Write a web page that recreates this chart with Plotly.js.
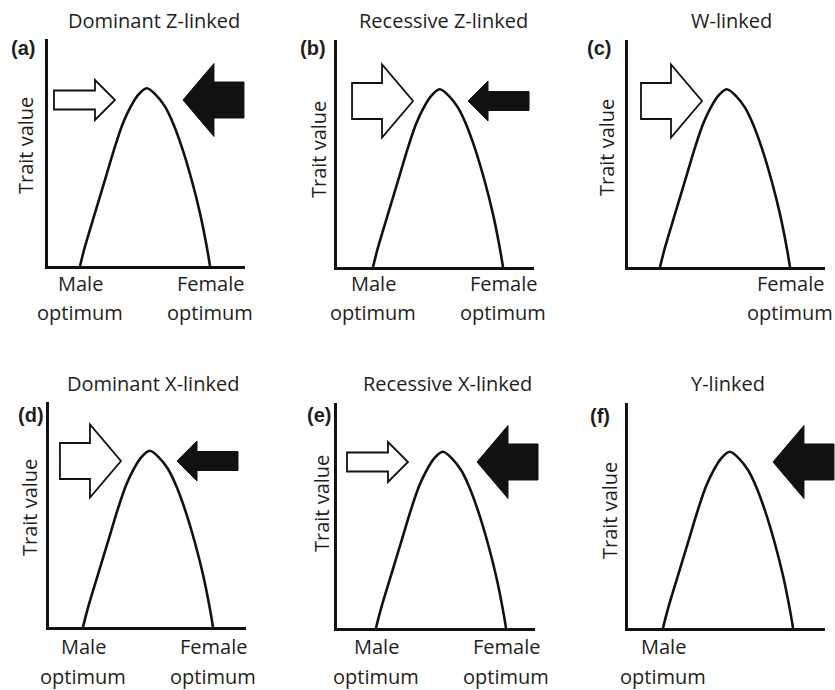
<!DOCTYPE html>
<html><head><meta charset="utf-8">
<script src="https://cdn.plot.ly/plotly-3.0.1.min.js"></script>
<style>html,body{margin:0;padding:0;background:#fff}#chart{width:835px;height:690px}</style>
</head><body><div id="chart"></div>
<script>
// ---------- DATA ----------
const panelLetters = ['(a)', '(b)', '(c)', '(d)', '(e)', '(f)'];
const panelTitles = ['Dominant Z-linked', 'Recessive Z-linked', 'W-linked',
                     'Dominant X-linked', 'Recessive X-linked', 'Y-linked'];
const yAxisLabel = 'Trait value';
const maleLabel = ['Male', 'optimum'];
const femaleLabel = ['Female', 'optimum'];
const showMaleLabel = [true, true, false, true, true, true];
const showFemaleLabel = [true, true, true, true, true, false];
// trait-value curve: x = 0 at male optimum, x = 1 at female optimum; y relative to axis height
const curveX = [0, 0.038, 0.115, 0.192, 0.269, 0.331, 0.39, 0.446, 0.513, 0.585, 0.654, 0.715, 0.782, 0.859, 0.923, 0.975, 1];
const curveY = [0, 0.085, 0.233, 0.379, 0.526, 0.630, 0.702, 0.753, 0.783, 0.753, 0.702, 0.630, 0.526, 0.379, 0.233, 0.085, 0];
// selection strength pushing toward optimum: 0 = none, 1 = weak, 2 = strong
const maleSelection = [1, 2, 2, 2, 1, 0];     // white arrows (pointing right)
const femaleSelection = [2, 1, 0, 1, 2, 2];   // black arrows (pointing left)

// ---------- LAYOUT (positions in px) ----------
const W = 835, H = 690;
const boxes = [ // [left, right, top, bottom]
  [48, 245, 39, 266], [337, 534, 40, 267], [628, 825, 40, 267],
  [49, 246, 402, 627], [337, 535, 403, 628], [628, 825, 403, 628]];
const footPx = [80, 373, 660, 83, 376, 663];
const unitPx = 130;
const maleTipX = [0.269, 0.308, 0.323, 0.292, 0.246, 0];
const femaleTipX = [0.792, 0.731, 0, 0.723, 0.777, 0.846];
const arrowCenterPx = 166;
const arrowDims = { // px: length, head length, head half-height, shaft half-height
  1: {L: 61, Hd: 20, hh: 20, sh: 9.5},
  2: {L: 61, Hd: 31, hh: 36.5, sh: 18}
};
const titlePos = [[154, 20], [444, 20], [731, 20], [153, 383], [447, 383], [728, 383]];
const letterPos = [[23, 48], [313, 48], [599, 48], [31, 415], [319, 415], [600, 416]];
const ylabPos = [[26, 146], [319, 150], [606, 148], [29, 508], [321, 504], [609, 511]];
const labelRowY = [[284, 312], [646, 676]];

const FONT = 'Open Sans, Noto Sans, sans-serif';
const TXT = '#1e1e1e';
const INK = '#111111';
const FS = 20;

const traces = [];
const layout = {
  width: W, height: H, margin: {l: 0, r: 0, t: 0, b: 0},
  paper_bgcolor: '#fff', plot_bgcolor: 'rgba(0,0,0,0)',
  showlegend: false, annotations: [], shapes: []
};
const px = x => x / W;
const py = y => 1 - y / H;

boxes.forEach((b, i) => {
  const n = i === 0 ? '' : String(i + 1);
  const [L, R, T, B] = b;
  const r0 = -(footPx[i] - L) / unitPx, r1 = (R - footPx[i]) / unitPx;
  const common = {showline: true, linewidth: 3, linecolor: INK, showgrid: false, zeroline: false,
                  showticklabels: false, ticks: '', fixedrange: true};
  layout['xaxis' + n] = Object.assign({}, common, {domain: [px(L), px(R)], range: [r0, r1], anchor: 'y' + n});
  layout['yaxis' + n] = Object.assign({}, common, {domain: [py(B), py(T)], range: [0, 1], anchor: 'x' + n});

  traces.push({x: curveX, y: curveY, xaxis: 'x' + n, yaxis: 'y' + n, mode: 'lines',
               line: {color: INK, width: 2.6, shape: 'spline', smoothing: 0.9}, hoverinfo: 'skip'});

  const fx = v => (v - r0) / (r1 - r0);
  const wpx = R - L, hpx = B - T;
  const cy = arrowCenterPx / hpx;
  const arrow = (tip, s, dir, fill) => {
    const d = arrowDims[s];
    const t = fx(tip);
    const ax = p => (t - dir * p / wpx).toFixed(5);
    const ay = p => (cy + p / hpx).toFixed(5);
    const path = `M${ax(d.L)},${ay(-d.sh)} L${ax(d.Hd)},${ay(-d.sh)} L${ax(d.Hd)},${ay(-d.hh)} L${ax(0)},${ay(0)} ` +
                 `L${ax(d.Hd)},${ay(d.hh)} L${ax(d.Hd)},${ay(d.sh)} L${ax(d.L)},${ay(d.sh)} Z`;
    layout.shapes.push({type: 'path', path, xref: 'x' + n + ' domain', yref: 'y' + n + ' domain',
      fillcolor: fill, line: {color: INK, width: fill === '#ffffff' ? 1.8 : 1}, layer: 'above'});
  };
  if (maleSelection[i] > 0) arrow(maleTipX[i], maleSelection[i], 1, '#ffffff');
  if (femaleSelection[i] > 0) arrow(femaleTipX[i], femaleSelection[i], -1, INK);

  const ann = (text, x, y, extra) => layout.annotations.push(Object.assign({
    text, x: px(x), y: py(y), xref: 'paper', yref: 'paper', showarrow: false,
    xanchor: 'center', yanchor: 'middle', font: {family: FONT, size: FS, color: TXT}}, extra || {}));
  ann(panelTitles[i], titlePos[i][0], titlePos[i][1]);
  ann(panelLetters[i], letterPos[i][0], letterPos[i][1], {font: {family: 'Liberation Sans, Arial, sans-serif', size: 20, color: TXT, weight: 'bold'}});
  ann(yAxisLabel, ylabPos[i][0], ylabPos[i][1], {textangle: -90});
  const row = i < 3 ? 0 : 1;
  const lab = (lines, xv) => lines.forEach((t, k) => layout.annotations.push({
    text: t, x: xv, xref: 'x' + n, y: py(labelRowY[row][k]), yref: 'paper', showarrow: false,
    xanchor: 'center', yanchor: 'middle', font: {family: FONT, size: FS, color: TXT}}));
  if (showMaleLabel[i]) lab(maleLabel, 0);
  if (showFemaleLabel[i]) lab(femaleLabel, 1);
});

Plotly.newPlot('chart', traces, layout, {staticPlot: true, displayModeBar: false});
</script></body></html>
